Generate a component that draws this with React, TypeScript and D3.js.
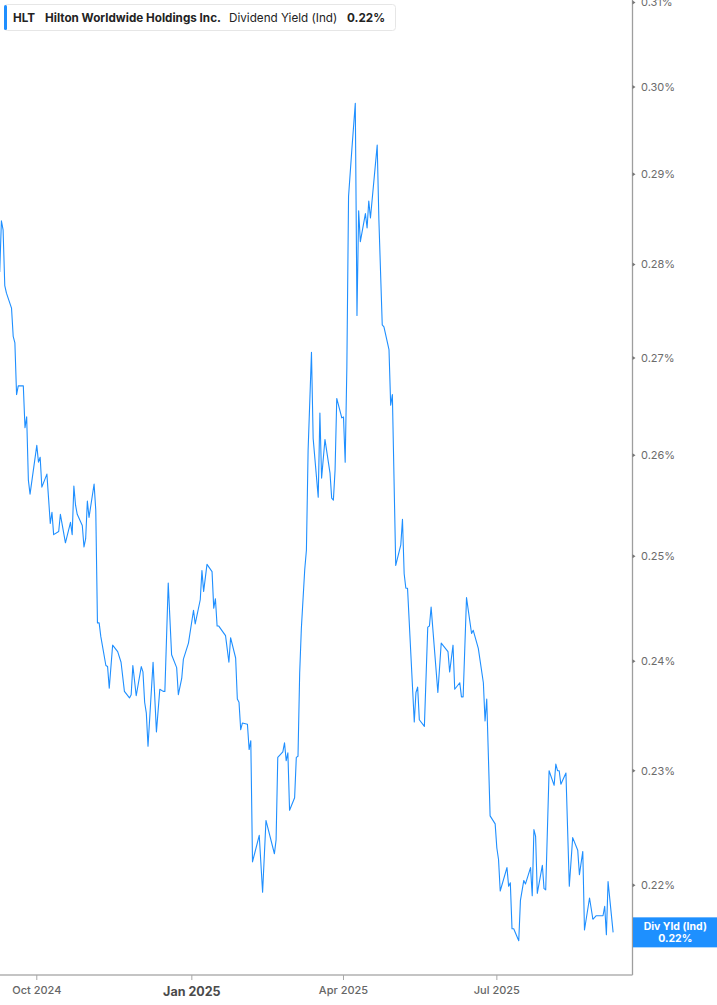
import { useEffect, useRef } from 'react';
import * as d3 from 'd3';

// HLT indicated dividend yield (%)
const yieldSeries: [string, number][] = [
  ['2024-09-09', 0.2792], ['2024-09-10', 0.2848], ['2024-09-11', 0.2838], ['2024-09-12', 0.2777],
  ['2024-09-13', 0.2769], ['2024-09-16', 0.2753], ['2024-09-17', 0.2723], ['2024-09-18', 0.2716],
  ['2024-09-19', 0.2662], ['2024-09-20', 0.2671], ['2024-09-23', 0.2671], ['2024-09-24', 0.2628],
  ['2024-09-25', 0.2639], ['2024-09-26', 0.2575], ['2024-09-27', 0.2561], ['2024-10-01', 0.261],
  ['2024-10-02', 0.2593], ['2024-10-03', 0.2598], ['2024-10-04', 0.2568], ['2024-10-07', 0.2581],
  ['2024-10-09', 0.2532], ['2024-10-10', 0.2543], ['2024-10-11', 0.2521], ['2024-10-14', 0.2524],
  ['2024-10-15', 0.2541], ['2024-10-18', 0.2513], ['2024-10-21', 0.2533], ['2024-10-22', 0.2521],
  ['2024-10-23', 0.2569], ['2024-10-24', 0.255], ['2024-10-25', 0.2541], ['2024-10-28', 0.253],
  ['2024-10-29', 0.2509], ['2024-10-30', 0.2517], ['2024-10-31', 0.2554], ['2024-11-01', 0.2538],
  ['2024-11-04', 0.2571], ['2024-11-05', 0.2545], ['2024-11-06', 0.2436], ['2024-11-07', 0.2436],
  ['2024-11-08', 0.2423], ['2024-11-11', 0.2396], ['2024-11-12', 0.2395], ['2024-11-13', 0.2375],
  ['2024-11-15', 0.2415], ['2024-11-18', 0.2409], ['2024-11-20', 0.2399], ['2024-11-22', 0.2372],
  ['2024-11-25', 0.2366], ['2024-11-26', 0.2369], ['2024-11-27', 0.2396], ['2024-11-29', 0.2368],
  ['2024-12-02', 0.2395], ['2024-12-03', 0.239], ['2024-12-04', 0.2362], ['2024-12-05', 0.2352],
  ['2024-12-06', 0.2322], ['2024-12-09', 0.2399], ['2024-12-11', 0.2335], ['2024-12-13', 0.2374],
  ['2024-12-15', 0.2372], ['2024-12-16', 0.2372], ['2024-12-18', 0.2474], ['2024-12-20', 0.2406],
  ['2024-12-23', 0.2394], ['2024-12-24', 0.2369], ['2024-12-26', 0.2384], ['2024-12-27', 0.2402],
  ['2024-12-30', 0.2417], ['2025-01-02', 0.2448], ['2025-01-03', 0.2435], ['2025-01-06', 0.2458],
  ['2025-01-07', 0.2486], ['2025-01-08', 0.2466], ['2025-01-10', 0.2492], ['2025-01-13', 0.2485],
  ['2025-01-14', 0.245], ['2025-01-15', 0.2459], ['2025-01-16', 0.2433], ['2025-01-17', 0.2433],
  ['2025-01-21', 0.2424], ['2025-01-23', 0.2399], ['2025-01-24', 0.2422], ['2025-01-27', 0.2403],
  ['2025-01-28', 0.2365], ['2025-01-29', 0.2362], ['2025-01-30', 0.2337], ['2025-01-31', 0.2343],
  ['2025-02-03', 0.2342], ['2025-02-04', 0.2319], ['2025-02-05', 0.2327], ['2025-02-06', 0.222],
  ['2025-02-10', 0.2243], ['2025-02-12', 0.2194], ['2025-02-14', 0.2256], ['2025-02-19', 0.2227],
  ['2025-02-20', 0.2239], ['2025-02-21', 0.2312], ['2025-02-24', 0.2317], ['2025-02-25', 0.2325],
  ['2025-02-26', 0.2309], ['2025-02-27', 0.2316], ['2025-02-28', 0.2265], ['2025-03-03', 0.2276],
  ['2025-03-04', 0.2312], ['2025-03-05', 0.2313], ['2025-03-06', 0.2389], ['2025-03-07', 0.2431],
  ['2025-03-09', 0.2487], ['2025-03-10', 0.2506], ['2025-03-11', 0.2605], ['2025-03-13', 0.2706],
  ['2025-03-14', 0.2617], ['2025-03-17', 0.2558], ['2025-03-18', 0.2643], ['2025-03-19', 0.2577],
  ['2025-03-21', 0.2616], ['2025-03-24', 0.2582], ['2025-03-25', 0.2557], ['2025-03-26', 0.2555],
  ['2025-03-27', 0.2585], ['2025-03-28', 0.2658], ['2025-03-31', 0.2638], ['2025-04-01', 0.2639],
  ['2025-04-02', 0.2593], ['2025-04-03', 0.2691], ['2025-04-04', 0.2875], ['2025-04-06', 0.2929],
  ['2025-04-08', 0.2981], ['2025-04-09', 0.2745], ['2025-04-10', 0.2859], ['2025-04-11', 0.2825],
  ['2025-04-14', 0.2856], ['2025-04-15', 0.284], ['2025-04-16', 0.287], ['2025-04-17', 0.2851],
  ['2025-04-21', 0.2933], ['2025-04-22', 0.2849], ['2025-04-24', 0.2735], ['2025-04-25', 0.2733],
  ['2025-04-28', 0.2709], ['2025-04-29', 0.2651], ['2025-04-30', 0.2662], ['2025-05-02', 0.2491],
  ['2025-05-05', 0.2511], ['2025-05-06', 0.2536], ['2025-05-07', 0.2483], ['2025-05-08', 0.2469],
  ['2025-05-09', 0.2469], ['2025-05-13', 0.2344], ['2025-05-14', 0.2371], ['2025-05-15', 0.2376],
  ['2025-05-16', 0.2346], ['2025-05-19', 0.234], ['2025-05-21', 0.2432], ['2025-05-22', 0.2433],
  ['2025-05-23', 0.2451], ['2025-05-27', 0.2371], ['2025-05-29', 0.2417], ['2025-06-02', 0.2409],
  ['2025-06-03', 0.239], ['2025-06-05', 0.2415], ['2025-06-06', 0.2374], ['2025-06-09', 0.238],
  ['2025-06-10', 0.2367], ['2025-06-11', 0.2367], ['2025-06-13', 0.246], ['2025-06-16', 0.2426],
  ['2025-06-17', 0.2429], ['2025-06-20', 0.2412], ['2025-06-23', 0.238], ['2025-06-24', 0.2345],
  ['2025-06-25', 0.2365], ['2025-06-27', 0.226], ['2025-06-30', 0.2253], ['2025-07-01', 0.2232],
  ['2025-07-02', 0.2222], ['2025-07-03', 0.2195], ['2025-07-07', 0.2215], ['2025-07-08', 0.2199],
  ['2025-07-09', 0.2202], ['2025-07-10', 0.2163], ['2025-07-11', 0.2163], ['2025-07-14', 0.2153],
  ['2025-07-15', 0.2187], ['2025-07-17', 0.2204], ['2025-07-18', 0.2201], ['2025-07-21', 0.2215],
  ['2025-07-22', 0.2191], ['2025-07-23', 0.2248], ['2025-07-24', 0.2242], ['2025-07-25', 0.2193],
  ['2025-07-28', 0.2217], ['2025-07-29', 0.2197], ['2025-07-30', 0.2196], ['2025-08-01', 0.23],
  ['2025-08-04', 0.2287], ['2025-08-05', 0.2306], ['2025-08-06', 0.23], ['2025-08-07', 0.23],
  ['2025-08-08', 0.2288], ['2025-08-11', 0.2298], ['2025-08-13', 0.2199], ['2025-08-15', 0.2241],
  ['2025-08-18', 0.223], ['2025-08-19', 0.2209], ['2025-08-21', 0.2229], ['2025-08-22', 0.2162],
  ['2025-08-25', 0.2189], ['2025-08-27', 0.2171], ['2025-08-29', 0.2174], ['2025-09-02', 0.2174],
  ['2025-09-03', 0.2182], ['2025-09-04', 0.2158], ['2025-09-05', 0.2203], ['2025-09-08', 0.216],
];

const yTicks = [0.22, 0.23, 0.24, 0.25, 0.26, 0.27, 0.28, 0.29, 0.3, 0.31];
const xDomain = ['2024-09-09T04:00:00Z', '2025-09-19T12:00:00Z'];
const yDomain = [0.21245, 0.31031];

const ticker = 'HLT';
const company = 'Hilton Worldwide Holdings Inc.';
const metric = 'Dividend Yield (Ind)';
const badgeLabel = 'Div Yld (Ind)';

const App = (): JSX.Element => {
  const svgRef = useRef<SVGSVGElement>(null);

  useEffect(() => {
    if (svgRef.current) {
      svgRef.current.innerHTML = '';
    }
    const width = 717;
    const height = 1005;
    const plotRight = 632.5;
    const plotBottom = 975;
    const font = 'Inter, "Noto Sans", sans-serif';
    const blue = '#1f8fff';

    const data = yieldSeries.map(([d, v]) => ({ date: new Date(d), value: v }));
    const last = data[data.length - 1];

    const x = d3.scaleUtc(xDomain.map((d) => new Date(d)) as [Date, Date], [0, plotRight]);
    const y = d3.scaleLog(yDomain, [plotBottom, 0]);

    const svg = d3
      .select(svgRef.current)
      .attr('width', width)
      .attr('height', height)
      .attr('viewBox', [0, 0, width, height])
      .style('font-family', font);

    // The line
    const line = d3
      .line<{ date: Date; value: number }>()
      .x((d) => x(d.date))
      .y((d) => y(d.value));

    svg
      .append('path')
      .attr('fill', 'none')
      .attr('stroke', blue)
      .attr('stroke-width', 1.1)
      .attr('stroke-linejoin', 'round')
      .attr('d', line(data));

    // Right axis
    const yAxis = svg.append('g').attr('transform', `translate(${plotRight},0)`);
    yAxis
      .append('line')
      .attr('y1', 0)
      .attr('y2', plotBottom)
      .attr('stroke', '#9e9e9e')
      .attr('stroke-width', 1.3);
    const yt = yAxis
      .selectAll('g.tick')
      .data(yTicks)
      .join('g')
      .attr('class', 'tick')
      .attr('transform', (d) => `translate(0,${y(d)})`);
    yt.append('path').attr('d', 'M0,-2L3,0L0,2Z').attr('fill', '#777');
    yt.append('text')
      .attr('x', 8.5)
      .attr('dy', '0.35em')
      .attr('fill', '#6b6b6b')
      .attr('font-size', 11)
      .text((d) => `${d.toFixed(2)}%`);

    // Bottom axis
    const xAxis = svg.append('g').attr('transform', `translate(0,${plotBottom})`);
    xAxis
      .append('line')
      .attr('x1', 0)
      .attr('x2', plotRight)
      .attr('stroke', '#b0b0b0')
      .attr('stroke-width', 1.6);
    const xt = xAxis
      .selectAll('g.tick')
      .data(x.ticks(d3.utcMonth.every(3) as d3.TimeInterval))
      .join('g')
      .attr('class', 'tick')
      .attr('transform', (d) => `translate(${x(d)},0)`);
    xt.append('line').attr('y1', 0).attr('y2', 5).attr('stroke', '#a8a8a8').attr('stroke-width', 1);
    xt.append('text')
      .attr('text-anchor', 'middle')
      .attr('y', (d) => (d.getUTCMonth() === 0 ? 21 : 18.5))
      .attr('fill', (d) => (d.getUTCMonth() === 0 ? '#4a4a4a' : '#666'))
      .attr('font-size', (d) => (d.getUTCMonth() === 0 ? 12.5 : 11))
      .attr('font-weight', (d) => (d.getUTCMonth() === 0 ? 700 : 500))
      .text((d) => d3.utcFormat('%b %Y')(d));

    // Last value badge
    const by = y(last.value);
    const badge = svg.append('g').attr('transform', `translate(${plotRight + 0.5},${by})`);
    badge
      .append('rect')
      .attr('y', -15)
      .attr('width', width - plotRight)
      .attr('height', 30)
      .attr('fill', '#1e90ff');
    badge
      .append('text')
      .attr('x', (width - plotRight) / 2)
      .attr('y', -2.5)
      .attr('text-anchor', 'middle')
      .attr('fill', '#fff')
      .attr('font-size', 10.5)
      .attr('font-weight', 700)
      .text(badgeLabel);
    badge
      .append('text')
      .attr('x', (width - plotRight) / 2)
      .attr('y', 9.5)
      .attr('text-anchor', 'middle')
      .attr('fill', '#fff')
      .attr('font-size', 10.5)
      .attr('font-weight', 700)
      .text(`${last.value.toFixed(2)}%`);

    // Legend header
    const header = svg.append('g');
    header
      .append('rect')
      .attr('x', 4.5)
      .attr('y', 4.5)
      .attr('width', 391)
      .attr('height', 26)
      .attr('rx', 3)
      .attr('fill', '#fff')
      .attr('stroke', '#e6e6e6');
    header.append('rect').attr('x', 4).attr('y', 5).attr('width', 3).attr('height', 25).attr('rx', 1.5).attr('fill', blue);
    const ht = header
      .append('text')
      .attr('y', 22)
      .attr('font-size', 11.7)
      .attr('fill', '#232323');
    ht.append('tspan').attr('x', 13).attr('font-weight', 700).text(ticker);
    ht.append('tspan').attr('x', 45).attr('font-weight', 700).text(company);
    ht.append('tspan').attr('x', 229).attr('font-weight', 400).text(metric);
    ht.append('tspan').attr('x', 347).attr('font-weight', 700).text(`${last.value.toFixed(2)}%`);
  }, []);

  return (
    <div style={{ position: 'absolute', left: 0, top: 0 }}>
      <svg ref={svgRef} style={{ display: 'block' }} />
    </div>
  );
};

export default App;
